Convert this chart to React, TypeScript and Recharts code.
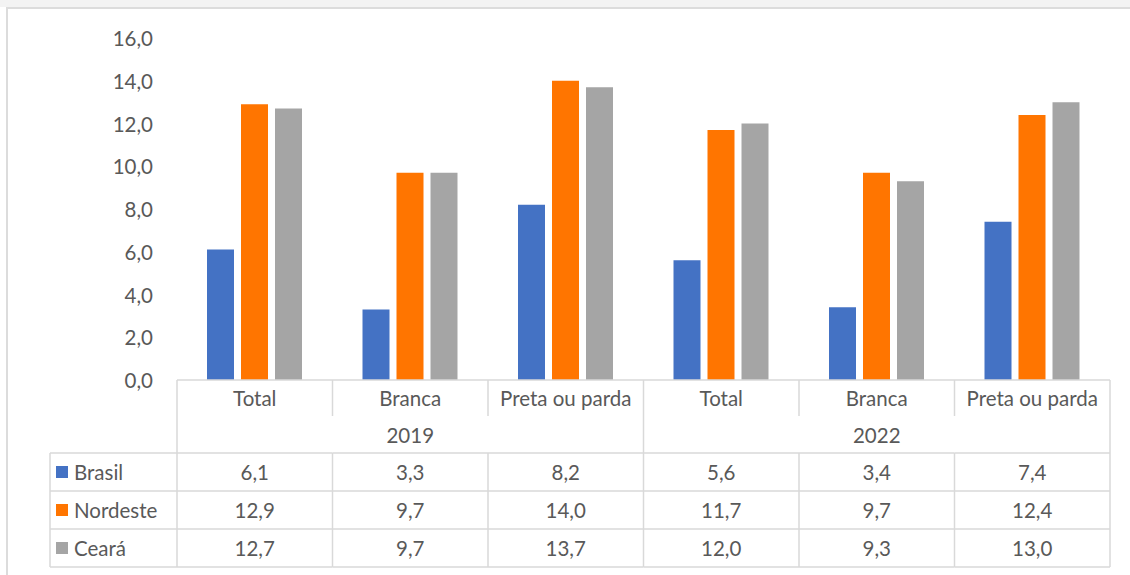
import React from "react";
import { BarChart, Bar, XAxis, YAxis } from "recharts";

const categories = ["Total", "Branca", "Preta ou parda", "Total", "Branca", "Preta ou parda"];
const years = ["2019", "2019", "2019", "2022", "2022", "2022"];
const brasil = [6.1, 3.3, 8.2, 5.6, 3.4, 7.4];
const nordeste = [12.9, 9.7, 14.0, 11.7, 9.7, 12.4];
const ceara = [12.7, 9.7, 13.7, 12.0, 9.3, 13.0];
const yTicks = [0, 2, 4, 6, 8, 10, 12, 14, 16];

const seriesNames = ["Brasil", "Nordeste", "Ceará"];
const seriesKeys = ["brasil", "nordeste", "ceara"];
const seriesColors = ["#4472C4", "#FF7500", "#A5A5A5"];

const data = categories.map((c, i) => ({
  key: `${years[i]}-${c}`,
  cat: c,
  year: years[i],
  brasil: brasil[i],
  nordeste: nordeste[i],
  ceara: ceara[i],
}));

const W = 1130;
const H = 575;
const PLOT_LEFT = 177;
const PLOT_RIGHT = 1110;
const LEGEND_LEFT = 50;
const FONT = "Lato, 'Noto Sans', sans-serif";
const TXT = "#595959";
const GRID = "#d9d9d9";
const FS = 20.5;

const fmt = (v: number) => v.toFixed(1).replace(".", ",");

const ROW_CAT = 36;
const ROW_YEAR = 37;
const ROW_H = 38;

const YTick = (props: any) => {
  const { x, y, payload } = props;
  return (
    <text x={x} y={y} textAnchor="end" dominantBaseline="central" fill={TXT} fontSize={FS} fontFamily={FONT}>
      {fmt(payload.value)}
    </text>
  );
};

const TableTick = (props: any) => {
  const { x, y, index } = props;
  const bw = (PLOT_RIGHT - PLOT_LEFT) / categories.length;
  const left = x - bw / 2;
  const right = x + bw / 2;
  const top = y;
  const yearTop = top + ROW_CAT;
  const rowsTop = yearTop + ROW_YEAR;
  const bottom = rowsTop + ROW_H * 3;
  const d = data[index];
  const els: any[] = [];
  const line = (k: string, x1: number, y1: number, x2: number, y2: number) =>
    els.push(<line key={k} x1={x1} y1={y1} x2={x2} y2={y2} stroke={GRID} strokeWidth={1.5} />);

  line("cl", left, top, left, yearTop);
  els.push(
    <text key="ct" x={x} y={top + ROW_CAT / 2} textAnchor="middle" dominantBaseline="central" fill={TXT} fontSize={FS} fontFamily={FONT}>
      {d.cat}
    </text>
  );
  if (index === 0 || index === 3) line("yl", left, yearTop, left, rowsTop);
  if (index === 1 || index === 4) {
    els.push(
      <text key="yt" x={x} y={yearTop + ROW_YEAR / 2} textAnchor="middle" dominantBaseline="central" fill={TXT} fontSize={FS} fontFamily={FONT}>
        {d.year}
      </text>
    );
  }
  if (index === categories.length - 1) {
    line("rr", right, top, right, bottom);
  }
  seriesKeys.forEach((sk, r) => {
    const rt = rowsTop + r * ROW_H;
    line(`h${r}`, left, rt, right, rt);
    line(`v${r}`, left, rt, left, rt + ROW_H);
    els.push(
      <text key={`t${r}`} x={x} y={rt + ROW_H / 2} textAnchor="middle" dominantBaseline="central" fill={TXT} fontSize={FS} fontFamily={FONT}>
        {fmt((d as any)[sk])}
      </text>
    );
    if (index === 0) {
      line(`lh${r}`, LEGEND_LEFT, rt, left, rt);
      line(`lv${r}`, LEGEND_LEFT, rt, LEGEND_LEFT, rt + ROW_H);
      els.push(<rect key={`lr${r}`} x={LEGEND_LEFT + 6} y={rt + ROW_H / 2 - 6} width={12} height={12} fill={seriesColors[r]} />);
      els.push(
        <text key={`lt${r}`} x={LEGEND_LEFT + 24} y={rt + ROW_H / 2} textAnchor="start" dominantBaseline="central" fill={TXT} fontSize={FS} fontFamily={FONT}>
          {seriesNames[r]}
        </text>
      );
    }
  });
  line("hb", left, bottom, right, bottom);
  if (index === 0) line("lhb", LEGEND_LEFT, bottom, left, bottom);
  return <g>{els}</g>;
};

export default function App() {
  return (
    <div style={{ position: "absolute", left: 0, top: 0, width: W, height: H, background: "#fff", overflow: "hidden" }}>
      <div style={{ position: "absolute", left: 0, top: 0, width: W, height: 7, background: "#f3f3f3" }} />
      <div
        style={{
          position: "absolute",
          left: 6,
          top: 7,
          width: W - 20,
          height: H - 10,
          borderLeft: "2px solid #dcdcdc",
          borderTop: "2px solid #dcdcdc",
        }}
      />
      <div style={{ position: "absolute", left: 6, top: 7, width: 2, height: H }}>
        <div style={{ width: 2, height: H, background: "#dcdcdc" }} />
      </div>
      <div style={{ position: "absolute", left: 6, top: 7, width: W, height: 2, background: "#dcdcdc" }} />
      <div style={{ position: "absolute", left: 0, top: 0 }}>
        <BarChart
          width={W}
          height={H}
          data={data}
          margin={{ top: 38, right: W - PLOT_RIGHT, bottom: 8, left: PLOT_LEFT - 100 }}
          barSize={27}
          barGap={7}
        >
          <XAxis
            dataKey="key"
            height={ROW_CAT + ROW_YEAR + ROW_H * 3}
            tickSize={0}
            tickMargin={0}
            interval={0}
            axisLine={{ stroke: GRID, strokeWidth: 1.5 }}
            tick={<TableTick />}
          />
          <YAxis
            width={100}
            domain={[0, 16]}
            ticks={yTicks}
            interval={0}
            axisLine={false}
            tickLine={false}
            tickSize={0}
            tickMargin={24}
            tick={<YTick />}
          />
          <Bar dataKey="brasil" name="Brasil" fill={seriesColors[0]} isAnimationActive={false} />
          <Bar dataKey="nordeste" name="Nordeste" fill={seriesColors[1]} isAnimationActive={false} />
          <Bar dataKey="ceara" name="Ceará" fill={seriesColors[2]} isAnimationActive={false} />
        </BarChart>
      </div>
    </div>
  );
}
